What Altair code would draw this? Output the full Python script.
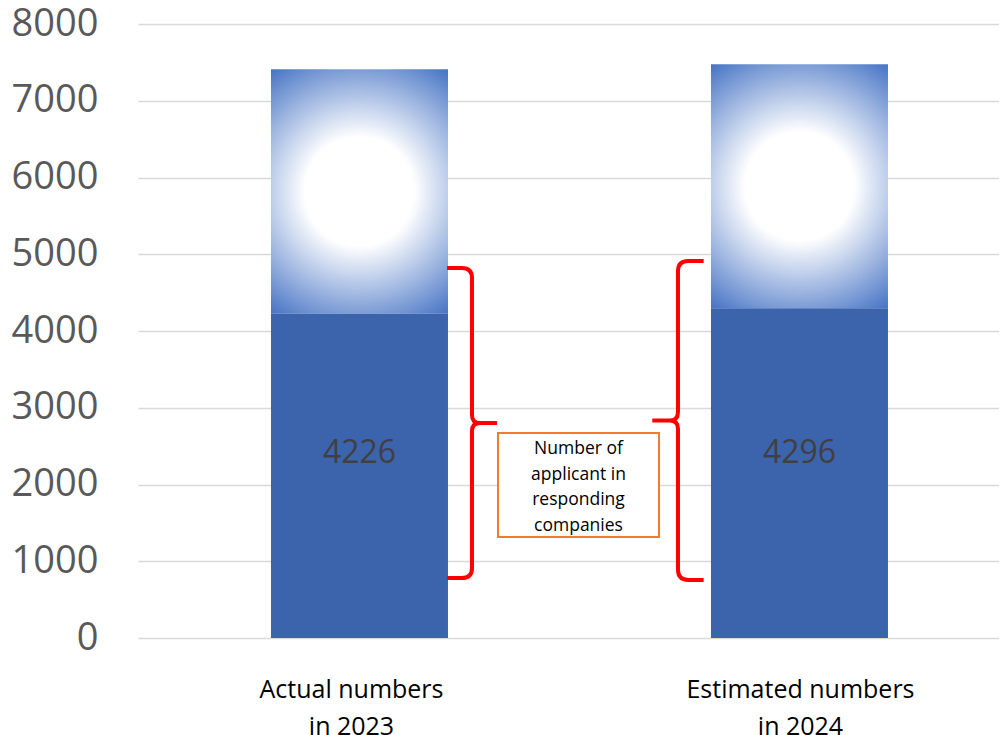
import altair as alt
import pandas as pd

# ---- data ----
categories = ["Actual numbers\nin 2023", "Estimated numbers\nin 2024"]
applicants = [4226, 4296]          # solid (labelled) segment
totals = [7410, 7475]              # top of the gradient segment
value_labels = ["4226", "4296"]
y_ticks = [0, 1000, 2000, 3000, 4000, 5000, 6000, 7000, 8000]
note_text = "Number of\napplicant in\nresponding\ncompanies"

df = pd.DataFrame({
    "cat": categories,
    "applicants": applicants,
    "total": totals,
    "label": value_labels,
})

FONT = "Open Sans"

x_enc = alt.X(
    "cat:N", sort=categories,
    scale=alt.Scale(paddingInner=0.5977, paddingOuter=0.2773, align=0.545),
    axis=alt.Axis(title=None, labelAngle=0, labelFontSize=25, labelFont=FONT,
                  labelColor="#000000", labelPadding=39, labelLineHeight=37,
                  labelLimit=0,
                  labelOffset={"condition": {"test": "datum.index == 0", "value": -8},
                               "value": 1},
                  labelExpr="split(datum.label, '\\n')", ticks=False, tickSize=0,
                  domain=False, grid=False),
)
y_scale = alt.Scale(domain=[0, 8000], nice=False)
y_axis = alt.Axis(title=None, values=y_ticks, format="d", labelFontSize=38,
                  labelFont=FONT, labelColor="#595959", labelPadding=40,
                  ticks=False, tickSize=0, domain=False, grid=True,
                  gridColor="#D9D9D9", gridWidth=1.5)

grad = alt.RadialGradient(
    gradient="radial",
    stops=[alt.GradientStop(offset=0, color="#FFFFFF"),
           alt.GradientStop(offset=0.36, color="#FFFFFF"),
           alt.GradientStop(offset=1, color="#4472C4")],
    x1=0.5, y1=0.5, r1=0, x2=0.5, y2=0.5, r2=0.62,
)

base = alt.Chart(df)

top = base.mark_bar(color=grad).encode(
    x=x_enc, y=alt.Y("applicants:Q", scale=y_scale, axis=y_axis), y2="total:Q")
bottom = base.mark_bar(color="#3C64AD").encode(
    x=x_enc, y=alt.Y("applicants:Q", scale=y_scale, axis=y_axis))
labels = base.mark_text(
    fontSize=32, font=FONT, color="#404040", baseline="middle").encode(
    x=x_enc, y=alt.datum(2410), text="label:N")

BRACE_R = ("M -0.161 -1 L -0.065 -1 Q 0 -1 0 -0.935 L 0 -0.052 Q 0 0 0.052 0 L 0.161 0 "
           "M 0.052 0 Q 0 0 0 0.052 L 0 0.935 Q 0 1 -0.065 1 L -0.161 1")
BRACE_L = ("M 0.161 -1 L 0.065 -1 Q 0 -1 0 -0.935 L 0 -0.052 Q 0 0 -0.052 0 L -0.161 0 "
           "M -0.052 0 Q 0 0 0 0.052 L 0 0.935 Q 0 1 0.065 1 L 0.161 1")
RECT = "M -1 -0.646 L 1 -0.646 L 1 0.646 L -1 0.646 Z"

ann1 = alt.Chart(pd.DataFrame({"cat": [categories[0]], "note": [note_text]}))
ann2 = alt.Chart(pd.DataFrame({"cat": [categories[1]]}))
x_ann = alt.X("cat:N", sort=categories)

brace1 = ann1.mark_point(shape=BRACE_R, size=96100, filled=False, stroke="#FF0000",
                         strokeWidth=4, opacity=1, xOffset=112.5).encode(
    x=x_ann, y=alt.datum(2801))
brace2 = ann2.mark_point(shape=BRACE_L, size=101761, filled=False, stroke="#FF0000",
                         strokeWidth=4, opacity=1, xOffset=-121.5).encode(
    x=x_ann, y=alt.datum(2834))
box = ann1.mark_point(shape=RECT, size=25921, filled=True, fill="#FFFFFF",
                      stroke="#ED7D31", strokeWidth=2, opacity=1, fillOpacity=1,
                      strokeOpacity=1, xOffset=219).encode(
    x=x_ann, y=alt.datum(1993))
note = ann1.mark_text(lineBreak="\n", fontSize=17.5, lineHeight=25.7, font=FONT,
                      color="#000000", align="center", baseline="middle",
                      xOffset=219, dy=-36).encode(
    x=x_ann, y=alt.datum(1993), text="note:N")

chart = alt.layer(top, bottom, labels, brace1, brace2, box, note).properties(
    width=861, height=614,
    padding={"left": 130, "top": 16, "right": 0, "bottom": 97},
    autosize=alt.AutoSizeParams(type="none"),
    background="#FFFFFF",
).configure_view(stroke=None)

chart.save("out.html", embed_options={"renderer": "svg", "actions": False})
